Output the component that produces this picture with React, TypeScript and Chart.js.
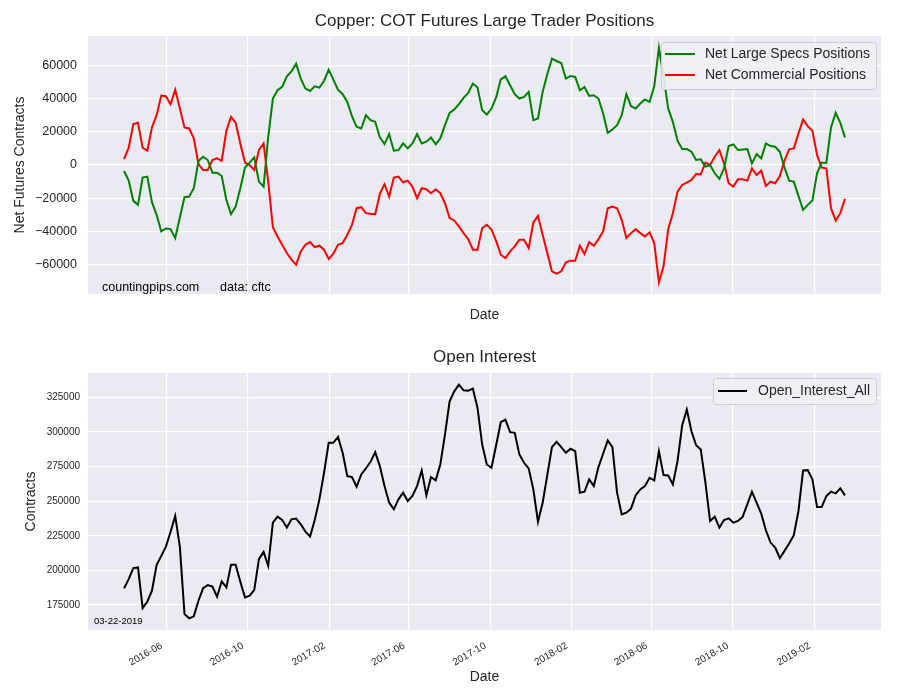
import React, { useEffect, useRef } from 'react';
import { Chart, registerables } from 'chart.js';
Chart.register(...registerables);

// ---------------- DATA ----------------
const FIRST_REPORT = '2016-03-29';
const N_WEEKS = 156;

const X_TICK_LABELS = ['2016-06', '2016-10', '2017-02', '2017-06', '2017-10', '2018-02', '2018-06', '2018-10', '2019-02'];
const TOP_Y_TICKS = [-60000, -40000, -20000, 0, 20000, 40000, 60000];
const OI_Y_TICKS = [175000, 200000, 225000, 250000, 275000, 300000, 325000];

const NET_LARGE_SPECS = [
  -3600, -9400, -21600, -24000, -7600, -7000, -22400, -30000, -40000, -38200,
  -38600, -44000, -31600, -19400, -19000, -14000, 2400, 5000, 3000, -4600,
  -4600, -6600, -21000, -29600, -25000, -14000, -1500, 1400, 4600, -10000,
  -13000, 17000, 40000, 45000, 47000, 53400, 56400, 61000, 52000, 46000,
  44600, 47400, 46600, 50600, 57400, 51400, 45400, 42600, 38000, 29400,
  23000, 22000, 30000, 27000, 26000, 16600, 12600, 18600, 8600, 9000,
  13000, 10000, 13000, 18600, 13000, 14000, 16600, 12400, 16000, 24000,
  31400, 33400, 36600, 40400, 43400, 49000, 46600, 33000, 30400, 34000,
  40700, 51600, 53400, 48000, 42600, 40000, 41000, 44000, 27000, 28000,
  44000, 54600, 64000, 62600, 61400, 52000, 53600, 53000, 45000, 47000,
  41600, 42000, 40000, 31000, 19400, 21400, 24000, 30000, 42600, 35400,
  34000, 37000, 39400, 38000, 47400, 70600, 53000, 34000, 26000, 14600,
  9600, 9600, 8000, 3000, 3400, -1000, 0, -5000, -8400, -2000,
  11400, 12400, 9000, 9400, 9600, 1000, 6600, 4000, 13000, 11400,
  11000, 8000, -1600, -9400, -10000, -18600, -27000, -24000, -21400, -5000,
  1400, 1400, 22600, 31400, 25400, 16600,
];

const NET_COMMERCIAL = [
  3600, 10400, 24600, 25400, 10400, 8600, 22600, 30000, 41800, 41400,
  36600, 45400, 34000, 22600, 22000, 16000, 600, -3000, -3000, 3000,
  4000, 2600, 20600, 29000, 25400, 13000, 1500, 0, -3000, 9000,
  13000, -10000, -37400, -43000, -48000, -53000, -57000, -60000, -52000, -48000,
  -46400, -49400, -48600, -51000, -56600, -53400, -48000, -47000, -42000, -36000,
  -26000, -25400, -29000, -29400, -29600, -17400, -11600, -19000, -7600, -7000,
  -10400, -9400, -13000, -20000, -14000, -14600, -17000, -14600, -17000, -23000,
  -32000, -33400, -37000, -41000, -44600, -51000, -51000, -38000, -36000, -38800,
  -45700, -54000, -56000, -52000, -49000, -45000, -45000, -50000, -34600, -30600,
  -42000, -53000, -64000, -65400, -64000, -58600, -57600, -57600, -48600, -53600,
  -46400, -48600, -44600, -40000, -26000, -25000, -26000, -33000, -44000, -41000,
  -38600, -41000, -43000, -40600, -47000, -70600, -61000, -38600, -29000, -16000,
  -12000, -10600, -9000, -5400, -5600, 1400, 0, 5000, 9000, 1000,
  -11000, -13000, -8600, -8600, -9400, -2000, -6000, -3400, -12600, -10000,
  -11000, -6600, 2600, 9400, 10000, 19000, 27400, 23400, 20600, 6000,
  -1600, -2000, -26000, -33400, -29000, -20400,
];

const OPEN_INTEREST_ALL = [
  187000, 193700, 201600, 202100, 172800, 177400, 185300, 203800, 210500, 217200,
  227800, 239300, 217000, 168500, 165400, 166800, 178100, 187200, 189400, 188400,
  181000, 192000, 187700, 204000, 204000, 191800, 180500, 181700, 186000, 208100,
  213400, 203300, 234500, 238800, 236400, 230900, 236900, 237400, 233300, 228000,
  224400, 236400, 251300, 270500, 292100, 292100, 296400, 284900, 268100, 267400,
  260400, 269300, 273600, 278400, 285400, 275300, 260900, 248900, 244100, 251300,
  256100, 250100, 253700, 260900, 272200, 254200, 267400, 265000, 276500, 298100,
  322100, 329300, 334100, 330000, 329800, 331200, 317300, 290900, 276500, 274100,
  290400, 307000, 308900, 299800, 299300, 283700, 277700, 273600, 258500, 235200,
  248900, 268800, 289000, 292800, 289000, 284900, 287800, 286100, 256100, 256800,
  265700, 260900, 274600, 284200, 293800, 289000, 256100, 240500, 241700, 244600,
  254200, 258500, 260900, 266900, 265000, 286100, 268800, 268600, 262100, 278900,
  304600, 316100, 300500, 290400, 287300, 263300, 235700, 238800, 230900, 236400,
  237600, 234500, 235700, 238600, 247700, 256800, 248900, 241000, 229000, 220100,
  216500, 208800, 214100, 219400, 225400, 242900, 272200, 272400, 265700, 245800,
  245800, 253700, 256800, 255600, 259200, 254200,
];

// ---------------- HELPERS ----------------
const dayNum = (s: string) => {
  const [y, m, d] = s.split('-').map(Number);
  return Date.UTC(y, m - 1, d || 1) / 86400000;
};
const DAYS = Array.from({ length: N_WEEKS }, (_, i) => dayNum(FIRST_REPORT) + 7 * i);
const X_TICKS = X_TICK_LABELS.map((m) => dayNum(m + '-01'));
const xSpan = DAYS[DAYS.length - 1] - DAYS[0];
const X_MIN = DAYS[0] - 0.05 * xSpan;
const X_MAX = DAYS[DAYS.length - 1] + 0.05 * xSpan;

const pad = (arrs: number[][]) => {
  const all = arrs.flat();
  const lo = Math.min(...all);
  const hi = Math.max(...all);
  const m = (hi - lo) * 0.05;
  return [lo - m, hi + m];
};

const FONT = "'Liberation Sans', Arial, Helvetica, sans-serif";
const TXT = '#262626';
Chart.defaults.font.family = FONT;

const bgPlugin = {
  id: 'bgArea',
  beforeDraw(chart: any) {
    const { ctx, chartArea: a } = chart;
    ctx.save();
    ctx.fillStyle = '#EAEAF2';
    ctx.fillRect(a.left, a.top, a.right - a.left, a.bottom - a.top);
    ctx.restore();
  },
};

const overlay = (id: string, draw: (ctx: CanvasRenderingContext2D, chart: any) => void) => ({
  id,
  afterDraw(chart: any) {
    const ctx = chart.ctx as CanvasRenderingContext2D;
    ctx.save();
    draw(ctx, chart);
    ctx.restore();
  },
});

function text(ctx: CanvasRenderingContext2D, s: string, x: number, y: number, size: number, align: CanvasTextAlign = 'center', color = TXT, rot = 0) {
  ctx.save();
  ctx.font = `${size}px ${FONT}`;
  ctx.fillStyle = color;
  ctx.textAlign = align;
  ctx.textBaseline = 'middle';
  ctx.translate(x, y);
  if (rot) ctx.rotate(rot);
  ctx.fillText(s, 0, 0);
  ctx.restore();
}

function roundRect(ctx: CanvasRenderingContext2D, x: number, y: number, w: number, h: number, r: number) {
  ctx.beginPath();
  ctx.moveTo(x + r, y);
  ctx.lineTo(x + w - r, y);
  ctx.quadraticCurveTo(x + w, y, x + w, y + r);
  ctx.lineTo(x + w, y + h - r);
  ctx.quadraticCurveTo(x + w, y + h, x + w - r, y + h);
  ctx.lineTo(x + r, y + h);
  ctx.quadraticCurveTo(x, y + h, x, y + h - r);
  ctx.lineTo(x, y + r);
  ctx.quadraticCurveTo(x, y, x + r, y);
  ctx.closePath();
}

function legend(ctx: CanvasRenderingContext2D, box: [number, number, number, number], items: { label: string; color: string }[], lineX: [number, number], textX: number, rowY: number[]) {
  roundRect(ctx, box[0] + 0.5, box[1] + 0.5, box[2], box[3], 3);
  ctx.fillStyle = 'rgba(240,240,246,0.9)';
  ctx.fill();
  ctx.strokeStyle = '#CDCDD4';
  ctx.lineWidth = 1;
  ctx.stroke();
  items.forEach((it, i) => {
    ctx.beginPath();
    ctx.moveTo(lineX[0], rowY[i]);
    ctx.lineTo(lineX[1], rowY[i]);
    ctx.strokeStyle = it.color;
    ctx.lineWidth = 2;
    ctx.stroke();
    text(ctx, it.label, textX, rowY[i], 14, 'left');
  });
}

const fmtNum = (v: number) => (v < 0 ? '\u2212' + String(-v) : String(v));

function makeOptions(opts: { topPad: number; xHeight: number; yMin: number; yMax: number; yTicks: number[]; yFont: number; yPad: number; showX: boolean }) {
  return {
    responsive: false,
    animation: false,
    devicePixelRatio: 1,
    layout: { padding: { top: opts.topPad, right: 19, left: 0, bottom: 0 } },
    plugins: { legend: { display: false }, tooltip: { enabled: false }, title: { display: false } },
    elements: { point: { radius: 0 }, line: { tension: 0, borderWidth: 2 } },
    scales: {
      x: {
        type: 'linear',
        min: X_MIN,
        max: X_MAX,
        border: { display: false },
        grid: { color: '#FFFFFF', lineWidth: 1.2, drawTicks: false },
        afterBuildTicks: (s: any) => {
          s.ticks = X_TICKS.map((v) => ({ value: v }));
        },
        afterFit: (s: any) => {
          s.height = opts.xHeight;
        },
        ticks: {
          display: opts.showX,
          autoSkip: false,
          minRotation: 30,
          maxRotation: 30,
          padding: 7,
          color: TXT,
          font: { size: 10, family: FONT },
          // trailing spaces pull the right-aligned rotated label back onto its tick
          callback: (_v: any, i: number) => X_TICK_LABELS[i] + '  ',
        },
      },
      y: {
        type: 'linear',
        min: opts.yMin,
        max: opts.yMax,
        border: { display: false },
        grid: { color: '#FFFFFF', lineWidth: 1.2, drawTicks: false },
        afterBuildTicks: (s: any) => {
          s.ticks = opts.yTicks.map((v) => ({ value: v }));
        },
        afterFit: (s: any) => {
          s.width = 88;
        },
        ticks: {
          padding: opts.yPad,
          color: TXT,
          font: { size: opts.yFont, family: FONT },
          callback: (v: any) => fmtNum(Number(v)),
        },
      },
    },
  } as any;
}

export default function App() {
  const topRef = useRef<HTMLCanvasElement>(null);
  const botRef = useRef<HTMLCanvasElement>(null);

  useEffect(() => {
    const [tMin, tMax] = pad([NET_LARGE_SPECS, NET_COMMERCIAL]);
    const [oMin, oMax] = pad([OPEN_INTEREST_ALL]);

    const top = new Chart(topRef.current!, {
      type: 'line',
      data: {
        datasets: [
          { label: 'Net Large Specs Positions', data: DAYS.map((d, i) => ({ x: d, y: NET_LARGE_SPECS[i] })), borderColor: '#008000', backgroundColor: '#008000' },
          { label: 'Net Commercial Positions', data: DAYS.map((d, i) => ({ x: d, y: NET_COMMERCIAL[i] })), borderColor: '#FF0000', backgroundColor: '#FF0000' },
        ],
      },
      options: makeOptions({ topPad: 36, xHeight: 46, yMin: tMin, yMax: tMax, yTicks: TOP_Y_TICKS, yFont: 12.5, yPad: 11, showX: false }),
      plugins: [
        bgPlugin,
        overlay('topText', (ctx, chart) => {
          const a = chart.chartArea;
          const cx = (a.left + a.right) / 2;
          text(ctx, 'Copper: COT Futures Large Trader Positions', cx, 21, 17);
          text(ctx, 'Date', cx, 315, 14);
          text(ctx, 'Net Futures Contracts', 20, (a.top + a.bottom) / 2, 14, 'center', TXT, -Math.PI / 2);
          text(ctx, 'countingpips.com      data: cftc', 102, 288, 12.5, 'left', '#000000');
          legend(
            ctx,
            [661, 42, 215, 47],
            [
              { label: 'Net Large Specs Positions', color: '#008000' },
              { label: 'Net Commercial Positions', color: '#FF0000' },
            ],
            [665, 695],
            705,
            [54, 75]
          );
        }),
      ],
    });

    const bot = new Chart(botRef.current!, {
      type: 'line',
      data: {
        datasets: [
          { label: 'Open_Interest_All', data: DAYS.map((d, i) => ({ x: d, y: OPEN_INTEREST_ALL[i] })), borderColor: '#000000', backgroundColor: '#000000' },
        ],
      },
      options: makeOptions({ topPad: 33, xHeight: 70, yMin: oMin, yMax: oMax, yTicks: OI_Y_TICKS, yFont: 10, yPad: 8, showX: true }),
      plugins: [
        bgPlugin,
        overlay('botText', (ctx, chart) => {
          const a = chart.chartArea;
          const cx = (a.left + a.right) / 2;
          text(ctx, 'Open Interest', cx, 17, 17);
          text(ctx, 'Date', cx, 337, 14);
          text(ctx, 'Contracts', 31, (a.top + a.bottom) / 2, 14, 'center', TXT, -Math.PI / 2);
          text(ctx, '03-22-2019', 94, 281, 9.5, 'left', '#000000');
          legend(ctx, [713, 38, 163, 26], [{ label: 'Open_Interest_All', color: '#000000' }], [718, 747], 758, [51]);
        }),
      ],
    });

    return () => {
      top.destroy();
      bot.destroy();
    };
  }, []);

  return (
    <div style={{ position: 'absolute', left: 0, top: 0, width: 900, height: 700, background: '#FFFFFF' }}>
      <canvas ref={topRef} width={900} height={340} style={{ position: 'absolute', left: 0, top: 0, width: 900, height: 340 }} />
      <canvas ref={botRef} width={900} height={360} style={{ position: 'absolute', left: 0, top: 340, width: 900, height: 360 }} />
    </div>
  );
}
